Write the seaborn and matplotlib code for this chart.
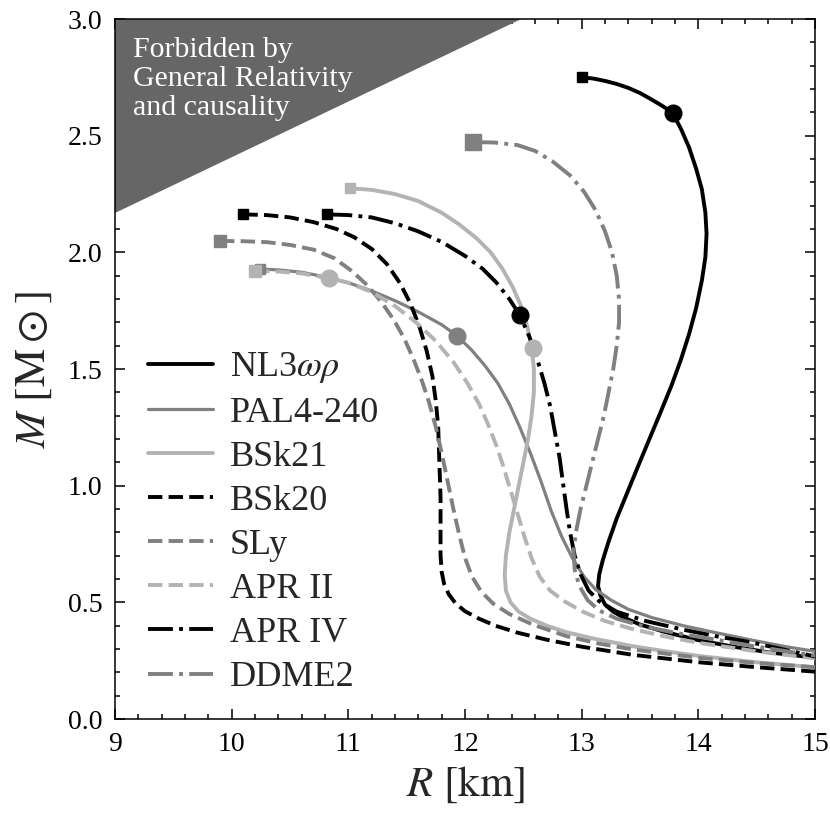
import numpy as np
import matplotlib
matplotlib.use('Agg')
import matplotlib.pyplot as plt
import seaborn as sns

# mass-radius curves (R in km, M in solar masses)
R_nl3 = [13.00, 13.10, 13.20, 13.30, 13.40, 13.50, 13.60, 13.70, 13.78, 13.85, 13.92, 13.98,
         14.03, 14.06, 14.07, 14.06, 14.03, 13.98, 13.92, 13.85, 13.77, 13.68, 13.58, 13.48,
         13.39, 13.30, 13.23, 13.18, 13.15, 13.14, 13.16, 13.20, 13.27, 13.36, 13.50, 13.70,
         14.00, 14.30, 14.60, 15.00, 15.20]
M_nl3 = [2.751, 2.745, 2.735, 2.722, 2.705, 2.683, 2.655, 2.625, 2.597, 2.53, 2.45, 2.36,
         2.27, 2.17, 2.08, 1.98, 1.88, 1.76, 1.65, 1.54, 1.43, 1.32, 1.20, 1.08,
         0.97, 0.86, 0.76, 0.68, 0.62, 0.57, 0.53, 0.49, 0.46, 0.435, 0.405, 0.375,
         0.338, 0.31, 0.286, 0.263, 0.253]

R_pal = [10.24, 10.40, 10.60, 10.80, 11.00, 11.20, 11.40, 11.60, 11.80, 11.93, 12.05, 12.17,
         12.28, 12.38, 12.47, 12.56, 12.65, 12.74, 12.83, 12.92, 13.02, 13.12, 13.25, 13.40,
         13.60, 13.87, 14.15, 14.44, 14.75, 15.00, 15.20]
M_pal = [1.929, 1.925, 1.915, 1.895, 1.870, 1.835, 1.793, 1.745, 1.69, 1.643, 1.585, 1.515,
         1.44, 1.35, 1.25, 1.14, 1.02, 0.89, 0.78, 0.69, 0.61, 0.555, 0.51, 0.47,
         0.435, 0.40, 0.37, 0.34, 0.31, 0.29, 0.278]

R_bsk21 = [11.01, 11.20, 11.40, 11.60, 11.80, 11.95, 12.10, 12.22, 12.32, 12.41, 12.48, 12.53,
           12.57, 12.59, 12.59, 12.57, 12.54, 12.50, 12.46, 12.42, 12.38, 12.35, 12.34, 12.35,
           12.39, 12.46, 12.56, 12.70, 12.87, 13.10, 13.44, 13.75, 14.01, 14.50, 15.00, 15.20]
M_bsk21 = [2.275, 2.268, 2.25, 2.22, 2.17, 2.12, 2.06, 2.00, 1.93, 1.85, 1.77, 1.69,
           1.60, 1.50, 1.40, 1.30, 1.20, 1.10, 1.00, 0.90, 0.80, 0.70, 0.62, 0.55,
           0.50, 0.46, 0.43, 0.40, 0.372, 0.345, 0.312, 0.288, 0.27, 0.243, 0.222, 0.215]

R_bsk20 = [10.10, 10.30, 10.50, 10.70, 10.90, 11.05, 11.20, 11.33, 11.44, 11.53, 11.61, 11.67,
           11.72, 11.75, 11.77, 11.78, 11.79, 11.79, 11.79, 11.80, 11.82, 11.86, 11.92, 12.00,
           12.12, 12.26, 12.45, 12.70, 13.00, 13.44, 14.01, 14.50, 15.00, 15.20]
M_bsk20 = [2.163, 2.160, 2.150, 2.130, 2.10, 2.065, 2.015, 1.95, 1.87, 1.783, 1.68, 1.58,
           1.47, 1.36, 1.25, 1.10, 0.95, 0.80, 0.70, 0.63, 0.58, 0.535, 0.495, 0.462,
           0.43, 0.40, 0.37, 0.34, 0.31, 0.275, 0.243, 0.222, 0.203, 0.197]

R_sly = [9.90, 10.10, 10.30, 10.50, 10.70, 10.88, 11.03, 11.16, 11.28, 11.39, 11.48, 11.56,
         11.63, 11.69, 11.75, 11.80, 11.85, 11.90, 11.95, 12.00, 12.06, 12.14, 12.24, 12.38,
         12.58, 12.87, 13.15, 13.44, 14.01, 14.50, 15.00, 15.20]
M_sly = [2.049, 2.048, 2.044, 2.032, 2.012, 1.975, 1.92, 1.86, 1.79, 1.71, 1.63, 1.54,
         1.45, 1.36, 1.25, 1.14, 1.02, 0.90, 0.79, 0.69, 0.61, 0.545, 0.495, 0.45,
         0.405, 0.355, 0.323, 0.298, 0.262, 0.240, 0.222, 0.216]

R_apr2 = [10.20, 10.40, 10.60, 10.83, 11.00, 11.20, 11.40, 11.58, 11.75, 11.90, 12.02, 12.12,
          12.20, 12.27, 12.33, 12.39, 12.45, 12.51, 12.57, 12.64, 12.73, 12.85, 13.01, 13.20,
          13.44, 13.75, 14.01, 14.50, 15.00, 15.20]
M_apr2 = [1.92, 1.918, 1.91, 1.89, 1.87, 1.83, 1.77, 1.70, 1.62, 1.53, 1.44, 1.35,
          1.26, 1.17, 1.08, 0.98, 0.88, 0.78, 0.69, 0.61, 0.55, 0.505, 0.46, 0.42,
          0.385, 0.35, 0.326, 0.29, 0.26, 0.25]

R_apr4 = [10.82, 11.00, 11.20, 11.40, 11.60, 11.80, 12.00, 12.15, 12.27, 12.38, 12.47, 12.55,
          12.62, 12.68, 12.73, 12.77, 12.81, 12.84, 12.87, 12.90, 12.94, 12.99, 13.06, 13.15,
          13.30, 13.55, 13.87, 14.15, 14.44, 14.75, 15.00, 15.20]
M_apr4 = [2.163, 2.160, 2.15, 2.125, 2.09, 2.045, 1.985, 1.93, 1.87, 1.80, 1.731, 1.64,
          1.54, 1.44, 1.34, 1.23, 1.12, 1.01, 0.90, 0.80, 0.70, 0.62, 0.55, 0.505,
          0.46, 0.42, 0.383, 0.355, 0.33, 0.296, 0.268, 0.258]

R_ddme2 = [12.07, 12.25, 12.45, 12.60, 12.75, 12.90, 13.02, 13.12, 13.20, 13.26, 13.30, 13.32,
           13.32, 13.30, 13.27, 13.23, 13.19, 13.14, 13.09, 13.04, 12.99, 12.95, 12.93, 12.94,
           12.98, 13.05, 13.15, 13.30, 13.55, 13.85, 14.15, 14.50, 15.00, 15.20]
M_ddme2 = [2.473, 2.471, 2.46, 2.435, 2.39, 2.33, 2.26, 2.18, 2.09, 2.00, 1.90, 1.80,
           1.70, 1.60, 1.50, 1.40, 1.30, 1.20, 1.10, 1.00, 0.90, 0.80, 0.72, 0.64,
           0.57, 0.51, 0.465, 0.43, 0.395, 0.365, 0.34, 0.31, 0.272, 0.262]

# filled circles on some of the curves
dot_R = [13.78, 12.47, 11.93, 12.58, 10.83]
dot_M = [2.597, 1.731, 1.643, 1.59, 1.89]
dot_c = ['#000000', '#000000', '#808080', '#b3b3b3', '#b3b3b3']

# region forbidden by GR + causality
forb_R = [9.0, 12.48, 9.0]
forb_M = [2.169, 3.0, 3.0]

labels = [r'NL3$\omega\rho$', 'PAL4-240', 'BSk21', 'BSk20', 'SLy', 'APR II', 'APR IV', 'DDME2']

black, grey, light = '#000000', '#808080', '#b3b3b3'
curves = [
    (R_nl3, M_nl3, black, '-', 2.8, 7.5),
    (R_pal, M_pal, grey, '-', 2.3, 7.5),
    (R_bsk21, M_bsk21, light, '-', 2.8, 7.5),
    (R_bsk20, M_bsk20, black, '--', 2.8, 7.5),
    (R_sly, M_sly, grey, '--', 2.8, 8),
    (R_apr2, M_apr2, light, '--', 2.8, 8),
    (R_apr4, M_apr4, black, '-.', 2.8, 7.5),
    (R_ddme2, M_ddme2, grey, '-.', 2.8, 11),
]

sns.set_theme(style='ticks')
plt.rcParams['font.family'] = ['Liberation Serif', 'DejaVu Serif']
plt.rcParams['mathtext.fontset'] = 'stix'
plt.rcParams['axes.linewidth'] = 1.1

fig, ax = plt.subplots(figsize=(8.3, 8.3), dpi=100)
fig.subplots_adjust(left=0.1386, right=0.982, bottom=0.1337, top=0.977)

ax.fill(forb_R, forb_M, color='#666666', lw=0, zorder=1)
ax.text(9.15, 2.925, 'Forbidden by\nGeneral Relativity\nand causality', color='white',
        fontsize=21.5, va='top', ha='left', linespacing=1.17, zorder=2)

for (R, M, c, ls, lw, ms), lab in zip(curves, labels):
    sns.lineplot(x=R, y=M, sort=False, estimator=None, color=c, linestyle=ls, lw=lw,
                 label=lab, ax=ax, legend=False, zorder=3)
    ax.plot(R[0], M[0], marker='s', ms=ms, color=c, lw=0, zorder=4)

for r, m, c in zip(dot_R, dot_M, dot_c):
    ax.plot(r, m, marker='o', ms=12, color=c, lw=0, zorder=5)

ax.set_xlim(9, 15)
ax.set_ylim(0, 3)
ax.set_xticks(np.arange(9, 15.1, 1))
ax.set_yticks(np.arange(0, 3.01, 0.5))
ax.set_xticks(np.arange(9, 15.01, 0.2), minor=True)
ax.set_yticks(np.arange(0, 3.01, 0.1), minor=True)
ax.set_yticklabels([f'{v:.1f}' for v in np.arange(0, 3.01, 0.5)])
ax.tick_params(which='both', direction='in', top=True, right=True, labelsize=20, width=1.1,
               colors='black')
ax.tick_params(which='major', length=7, pad=9)
ax.tick_params(which='minor', length=3.5)
ax.set_xlabel(r'$R\ [\mathrm{km}]$', fontsize=31, labelpad=6)
ax.set_ylabel(r'$M\ [\mathrm{M}\odot]$', fontsize=31, labelpad=10)
for s in ax.spines.values():
    s.set_color('black')

handles = []
for (R, M, c, ls, lw, ms), lab in zip(curves, labels):
    h, = ax.plot([], [], color=c, linestyle=ls, lw=lw, label=lab)
    handles.append(h)
ax.legend(handles=handles, loc='center left', bbox_to_anchor=(0.047, 0.281), frameon=False,
          fontsize=26, handlelength=1.8, handletextpad=0.47, labelspacing=0.3,
          borderpad=0, borderaxespad=0)

fig.savefig('out.png', dpi=100)
